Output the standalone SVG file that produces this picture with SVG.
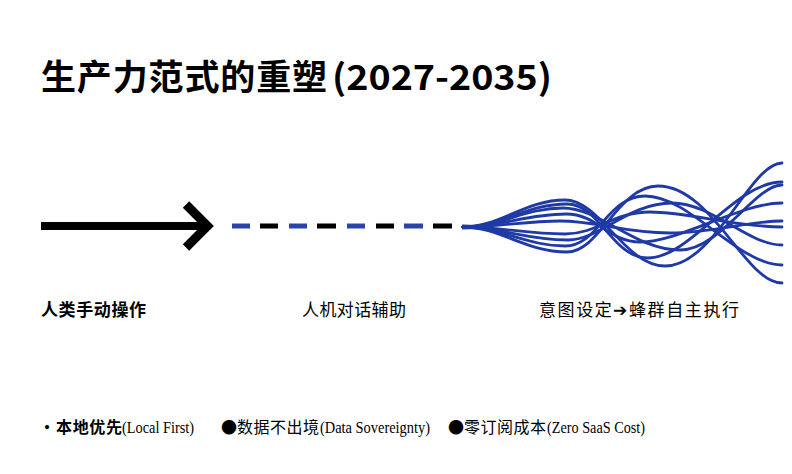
<svg xmlns="http://www.w3.org/2000/svg" width="792" height="474" viewBox="0 0 792 474">
<style>
.cjk{font-family:"Noto Sans CJK SC","Noto Sans",sans-serif;fill:#000}
.ser{font-family:"Liberation Serif","Noto Sans CJK SC",serif;fill:#000}
.wave{fill:none;stroke:#1f3aa6;stroke-width:2.8;stroke-linecap:round}
.dash{stroke-width:5;stroke-linecap:butt}
</style>
<rect width="792" height="474" fill="#fff"/>
<g id="title">
<text class="cjk" x="41" y="90" font-size="35" font-weight="700" textLength="286" lengthAdjust="spacing">生产力范式的重塑</text>
<text class="cjk" x="332" y="90" font-size="35" font-weight="700" textLength="220" lengthAdjust="spacingAndGlyphs">(2027-2035)</text>
</g>
<g id="connectors">
<g id="manual-arrow">
<line x1="41" y1="226" x2="205" y2="226" stroke="#000" stroke-width="8"/>
<polyline points="186,204.5 207.5,226 186,247.5" fill="none" stroke="#000" stroke-width="9" stroke-linejoin="miter"/>
</g>
<g id="dialog-dashes" class="dash">
<line x1="232" y1="226" x2="250" y2="226" stroke="#2a44a8"/>
<line x1="260" y1="226" x2="278" y2="226" stroke="#000"/>
<line x1="289" y1="226" x2="307" y2="226" stroke="#2a44a8"/>
<line x1="317" y1="226" x2="336" y2="226" stroke="#000"/>
<line x1="347" y1="226" x2="365" y2="226" stroke="#2a44a8"/>
<line x1="376" y1="226" x2="394" y2="226" stroke="#000"/>
<line x1="404" y1="226" x2="423" y2="226" stroke="#2a44a8"/>
<line x1="433" y1="226" x2="452" y2="226" stroke="#000"/>
</g>
<g id="swarm-waves">
<path d="M462,224.5 L490,225.5 L490,228.5 L462,229.5 Z" fill="#1f3aa6"/>
<path class="wave" d="M463,227 C500,227 525,200 565,200 C600,200 625,266 665,266 C715,266 750,163 782,163"/>
<path class="wave" d="M463,227 C500,227 527,204 567,204 C600,204 612,258 648,258 C690,258 735,182 782,182"/>
<path class="wave" d="M463,227 C500,227 525,208 563,208 C600,208 635,250 680,250 C720,250 755,185 782,185"/>
<path class="wave" d="M463,227 C500,227 527,214 566,214 C598,214 608,242 640,242 C680,242 740,203 782,203"/>
<path class="wave" d="M463,227 C500,227 525,221 560,221 C598,221 622,233 670,233 C712,233 750,221 782,221"/>
<path class="wave" d="M463,227 C500,227 527,234 565,234 C598,234 612,212 650,212 C690,212 735,227 782,227"/>
<path class="wave" d="M463,227 C500,227 525,240 568,240 C600,240 628,203 672,203 C712,203 748,245 782,245"/>
<path class="wave" d="M463,227 C500,227 527,246 565,246 C598,246 608,196 645,196 C690,196 738,265 782,265"/>
<path class="wave" d="M463,227 C500,227 525,252 567,252 C600,252 618,186 658,186 C712,186 745,283 782,283"/>
</g>
</g>
<g id="node-manual">
<text class="cjk" x="41" y="316" font-size="17" font-weight="700" textLength="105" lengthAdjust="spacing">人类手动操作</text>
</g>
<g id="node-dialog">
<text class="cjk" x="302" y="316" font-size="17" textLength="104" lengthAdjust="spacing">人机对话辅助</text>
</g>
<g id="node-swarm">
<text class="cjk" x="539" y="316" font-size="17" textLength="200" lengthAdjust="spacing">意图设定➔蜂群自主执行</text>
</g>
<g id="footer">
<text class="cjk" x="39" y="433" font-size="16" font-weight="700">・</text>
<text class="cjk" x="56" y="433" font-size="16" font-weight="700" textLength="66" lengthAdjust="spacing">本地优先</text>
<text class="ser" x="122" y="433" font-size="16" textLength="72" lengthAdjust="spacingAndGlyphs">(Local First)</text>
<text class="cjk" x="221" y="433" font-size="16">●</text>
<text class="cjk" x="237" y="433" font-size="16" textLength="82" lengthAdjust="spacing">数据不出境</text>
<text class="ser" x="320" y="433" font-size="16" textLength="110" lengthAdjust="spacingAndGlyphs">(Data Sovereignty)</text>
<text class="cjk" x="448" y="433" font-size="16">●</text>
<text class="cjk" x="464" y="433" font-size="16" textLength="82" lengthAdjust="spacing">零订阅成本</text>
<text class="ser" x="547" y="433" font-size="16" textLength="98" lengthAdjust="spacingAndGlyphs">(Zero SaaS Cost)</text>
</g>
</svg>
